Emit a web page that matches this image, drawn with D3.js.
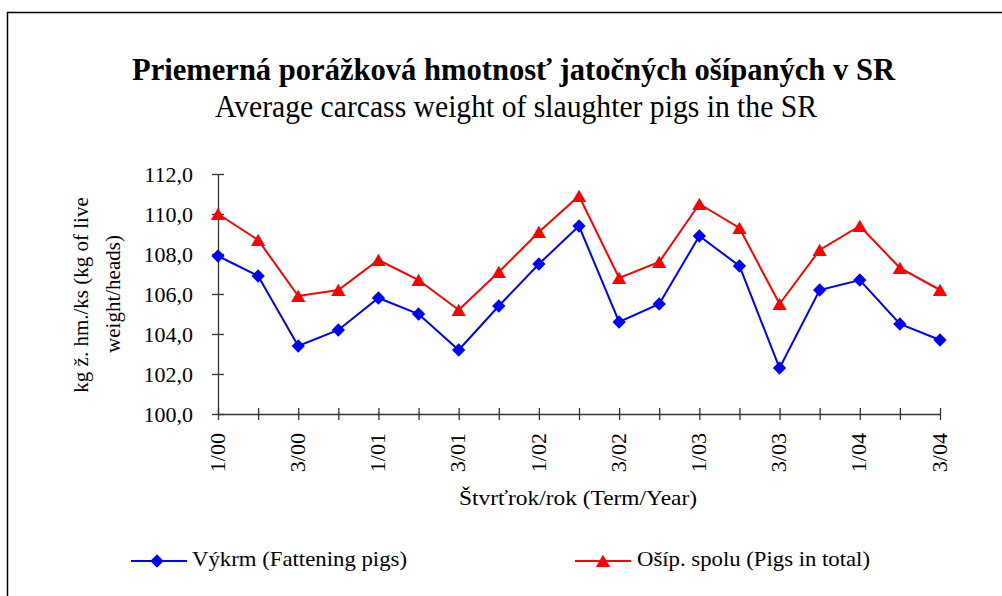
<!DOCTYPE html>
<html>
<head>
<meta charset="utf-8">
<script src="https://cdn.jsdelivr.net/npm/d3@7"></script>
<style>
  body { margin: 0; background: #fff; }
  svg { display: block; font-family: "Liberation Serif", "Times New Roman", serif; }
</style>
</head>
<body>
<div id="chart"></div>
<script>
// Chart data (quarter/year)
var categories = ["1/00", "2/00", "3/00", "4/00", "1/01", "2/01", "3/01", "4/01",
                  "1/02", "2/02", "3/02", "4/02", "1/03", "2/03", "3/03", "4/03",
                  "1/04", "2/04", "3/04"];
var fatteningValues = [107.9, 106.9, 103.4, 104.2, 105.8, 105.0, 103.2, 105.4,
                       107.5, 109.4, 104.6, 105.5, 108.9, 107.4, 102.3, 106.2,
                       106.7, 104.5, 103.7];
var totalValues = [110.0, 108.7, 105.9, 106.2, 107.7, 106.7, 105.2, 107.1,
                   109.1, 110.9, 106.8, 107.6, 110.5, 109.3, 105.5, 108.2,
                   109.4, 107.3, 106.2];
var yTicks = [100, 102, 104, 106, 108, 110, 112];
var seriesNames = ["Výkrm (Fattening pigs)", "Ošíp. spolu (Pigs in total)"];

var svgWidth = 1002;
var svgHeight = 596;

var svg = d3.select("#chart")
    .append("svg")
    .attr("width", svgWidth)
    .attr("height", svgHeight);

// Outer frame
svg.append("rect")
    .attr("x", 7.5)
    .attr("y", 12.5)
    .attr("width", 1000)
    .attr("height", 600)
    .attr("fill", "none")
    .attr("stroke", "#000")
    .attr("stroke-width", 1.5);

// Titles
svg.append("text")
    .attr("x", 132)
    .attr("y", 80)
    .attr("textLength", 763)
    .attr("lengthAdjust", "spacingAndGlyphs")
    .style("font-size", "31px")
    .style("font-weight", "bold")
    .text("Priemerná porážková hmotnosť jatočných ošípaných v SR");
svg.append("text")
    .attr("x", 215)
    .attr("y", 117)
    .attr("textLength", 602)
    .attr("lengthAdjust", "spacingAndGlyphs")
    .style("font-size", "31px")
    .text("Average carcass weight of slaughter pigs in the SR");

// Scales
var x = d3.scalePoint()
    .domain(categories)
    .range([218, 940]);
var y = d3.scaleLinear()
    .domain([100, 112])
    .range([414, 174]);

// Y axis
var yAxis = svg.append("g")
    .attr("transform", "translate(218,0)")
    .call(d3.axisLeft(y)
        .tickValues(yTicks)
        .tickSizeOuter(0)
        .tickFormat(d => d3.format(".1f")(d).replace(".", ",")));
yAxis.select(".domain").attr("stroke", "#333").attr("stroke-width", 1.3);
yAxis.selectAll(".tick line").attr("x1", -6).attr("x2", 6).attr("stroke", "#333").attr("stroke-width", 1.3);
yAxis.selectAll(".tick text")
    .attr("x", -25)
    .attr("dy", "0.35em")
    .style("font-family", "Liberation Serif, Times New Roman, serif")
    .style("font-size", "22px")
    .attr("fill", "#000");

// X axis
var xAxis = svg.append("g")
    .attr("transform", "translate(0,414)")
    .call(d3.axisBottom(x)
        .tickSizeOuter(0)
        .tickFormat((d, i) => i % 2 === 0 ? d : ""));
xAxis.select(".domain").attr("stroke", "#333").attr("stroke-width", 1.3);
xAxis.selectAll(".tick line").attr("y1", -6).attr("y2", 6).attr("stroke", "#333").attr("stroke-width", 1.3);
xAxis.selectAll(".tick text")
    .attr("transform", "rotate(-90)")
    .attr("x", -19)
    .attr("y", 0)
    .attr("dy", "0.28em")
    .style("text-anchor", "end")
    .style("font-family", "Liberation Serif, Times New Roman, serif")
    .style("font-size", "22px")
    .attr("fill", "#000");

// Axis titles
svg.append("text")
    .attr("x", 459)
    .attr("y", 505)
    .attr("textLength", 238)
    .attr("lengthAdjust", "spacingAndGlyphs")
    .style("font-size", "21px")
    .text("Štvrťrok/rok (Term/Year)");
var yTitle = svg.append("text")
    .attr("transform", "rotate(-90)")
    .style("text-anchor", "middle")
    .style("font-size", "21px");
yTitle.append("tspan").attr("x", -295).attr("y", 88).text("kg ž. hm./ks (kg of live");
yTitle.append("tspan").attr("x", -294).attr("y", 120).text("weight/heads)");

// Lines and markers
var line = d3.line()
    .x((d, i) => x(categories[i]))
    .y(d => y(d));

var diamond = d3.symbol().type(d3.symbolSquare).size(88);
var triangle = d3.symbol().type(d3.symbolTriangle).size(88);

svg.append("path")
    .datum(fatteningValues)
    .attr("d", line)
    .attr("fill", "none")
    .attr("stroke", "#0000ff")
    .attr("stroke-width", 2);
svg.append("path")
    .datum(totalValues)
    .attr("d", line)
    .attr("fill", "none")
    .attr("stroke", "#ff0000")
    .attr("stroke-width", 2);

svg.append("g")
    .selectAll("path")
    .data(fatteningValues)
    .enter()
    .append("path")
    .attr("d", diamond)
    .attr("transform", (d, i) => `translate(${x(categories[i])},${y(d)}) rotate(45)`)
    .attr("fill", "#0000ff");
svg.append("g")
    .selectAll("path")
    .data(totalValues)
    .enter()
    .append("path")
    .attr("d", triangle)
    .attr("transform", (d, i) => `translate(${x(categories[i])},${y(d) + 2})`)
    .attr("fill", "#ff0000");

// Legend
var legend = svg.append("g");
legend.append("line")
    .attr("x1", 131).attr("x2", 187).attr("y1", 561).attr("y2", 561)
    .attr("stroke", "#0000ff").attr("stroke-width", 2);
legend.append("path")
    .attr("d", diamond)
    .attr("transform", "translate(157,561) rotate(45)")
    .attr("fill", "#0000ff");
legend.append("text")
    .attr("x", 192).attr("y", 566)
    .attr("textLength", 215)
    .attr("lengthAdjust", "spacingAndGlyphs")
    .style("font-size", "21px")
    .text(seriesNames[0]);

legend.append("line")
    .attr("x1", 575).attr("x2", 631).attr("y1", 561).attr("y2", 561)
    .attr("stroke", "#ff0000").attr("stroke-width", 2);
legend.append("path")
    .attr("d", triangle)
    .attr("transform", "translate(603,563)")
    .attr("fill", "#ff0000");
legend.append("text")
    .attr("x", 637).attr("y", 566)
    .attr("textLength", 233)
    .attr("lengthAdjust", "spacingAndGlyphs")
    .style("font-size", "21px")
    .text(seriesNames[1]);
</script>
</body>
</html>
